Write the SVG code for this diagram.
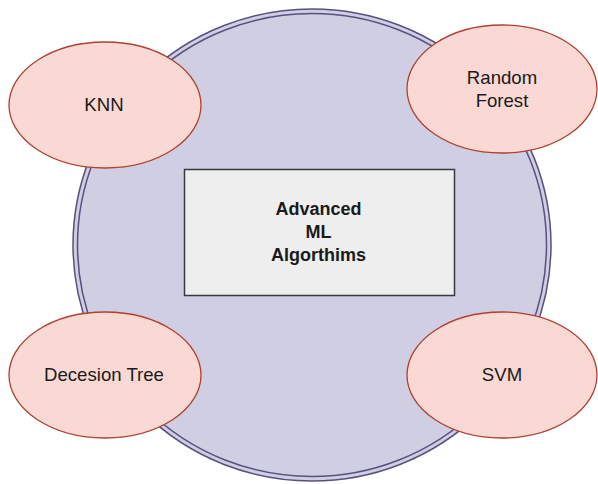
<svg xmlns="http://www.w3.org/2000/svg" width="598" height="484" viewBox="0 0 598 484">
<style>
.oval{fill:#fad9d5;stroke:#ae4132;stroke-width:1.3}
.lbl{font-family:"Liberation Sans",Arial,sans-serif;font-size:18.6px;fill:#1a1a1a;text-anchor:middle}
.bold{font-weight:bold;font-size:18px}
</style>
<rect width="598" height="484" fill="#ffffff"/>
<g id="container">
<ellipse cx="312" cy="245" rx="239" ry="236" fill="#d0cee2" stroke="#56517e" stroke-width="1.5"/>
<ellipse cx="312" cy="245" rx="234.5" ry="231.5" fill="none" stroke="#56517e" stroke-width="1.5"/>
</g>
<g id="center">
<rect x="184.5" y="169.5" width="270" height="126" fill="#eeeeee" stroke="#36393d" stroke-width="1.5"/>
<text class="lbl bold" x="318.5" y="215">Advanced</text>
<text class="lbl bold" x="318.5" y="238">ML</text>
<text class="lbl bold" x="318.5" y="261">Algorthims</text>
</g>
<g id="knn">
<ellipse class="oval" cx="105" cy="105" rx="96" ry="63"/>
<text class="lbl" x="104" y="111">KNN</text>
</g>
<g id="random-forest">
<ellipse class="oval" cx="502" cy="89" rx="95" ry="64"/>
<text class="lbl" x="502" y="84">Random</text>
<text class="lbl" x="502" y="107">Forest</text>
</g>
<g id="decision-tree">
<ellipse class="oval" cx="105" cy="375" rx="96" ry="63"/>
<text class="lbl" x="104" y="381">Decesion Tree</text>
</g>
<g id="svm">
<ellipse class="oval" cx="502" cy="375" rx="95" ry="63"/>
<text class="lbl" x="502" y="381">SVM</text>
</g>
<g id="connectors"></g>
</svg>
